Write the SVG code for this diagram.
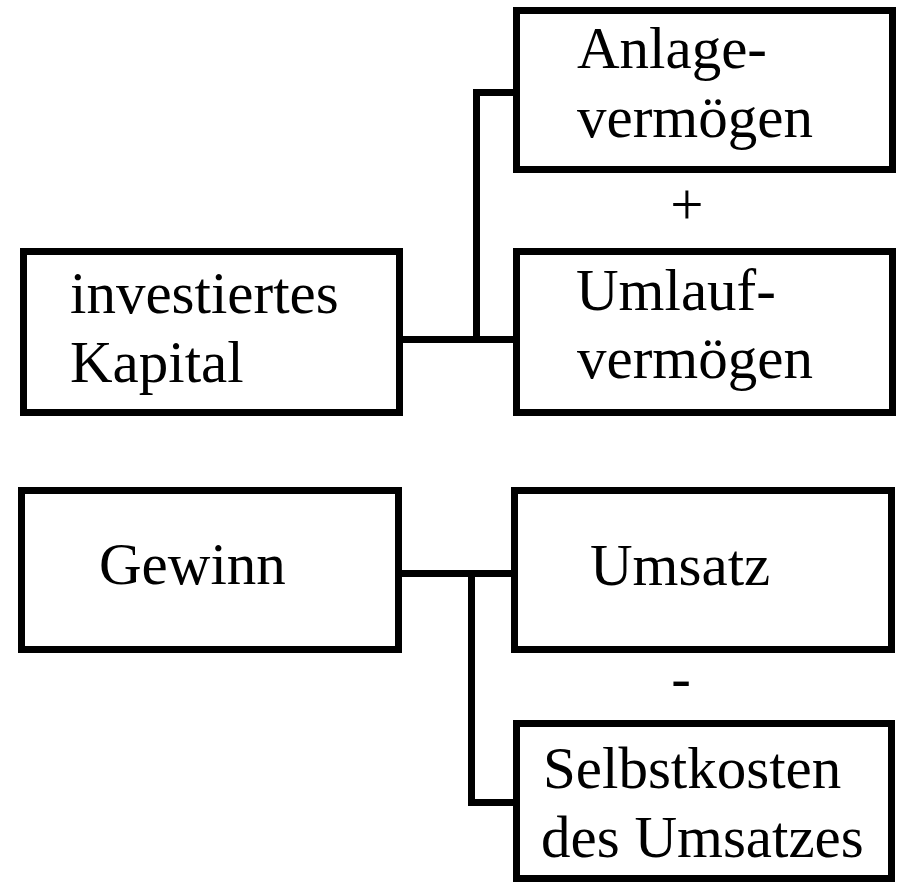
<svg xmlns="http://www.w3.org/2000/svg" width="898" height="882" viewBox="0 0 898 882">
  <style>
    .box { fill: #ffffff; stroke: #000000; stroke-width: 7; }
    .lbl { font-family: "Liberation Serif", "Times New Roman", serif; font-size: 59px; fill: #000000; }
    .op { font-family: "Liberation Serif", "Times New Roman", serif; font-size: 59px; fill: #000000; text-anchor: middle; }
    .wire { fill: none; stroke: #000000; stroke-width: 7; stroke-linecap: square; stroke-linejoin: miter; }
  </style>
  <rect width="898" height="882" fill="#ffffff"/>

  <!-- connectors -->
  <g id="connectors">
    <line class="wire" x1="403" y1="339.5" x2="513" y2="339.5"/>
    <polyline class="wire" points="513,92.5 476.5,92.5 476.5,339.5"/>
    <line class="wire" x1="402" y1="573.5" x2="511" y2="573.5"/>
    <polyline class="wire" points="471.5,573.5 471.5,802.5 513,802.5"/>
  </g>

  <!-- capital side -->
  <g id="investiertes-kapital">
    <rect class="box" x="23.5" y="251.5" width="376" height="161"/>
    <text class="lbl" x="70" y="313">investiertes</text>
    <text class="lbl" x="70" y="382">Kapital</text>
  </g>
  <g id="anlagevermoegen">
    <rect class="box" x="516.5" y="10.5" width="376" height="159"/>
    <text class="lbl" x="577" y="68">Anlage-</text>
    <text class="lbl" x="577" y="137">vermögen</text>
  </g>
  <text class="op" x="687" y="224">+</text>
  <g id="umlaufvermoegen">
    <rect class="box" x="516.5" y="251.5" width="376" height="161"/>
    <text class="lbl" x="576" y="310">Umlauf-</text>
    <text class="lbl" x="577" y="378">vermögen</text>
  </g>

  <!-- profit side -->
  <g id="gewinn">
    <rect class="box" x="21.5" y="490.5" width="377" height="159"/>
    <text class="lbl" x="99" y="584">Gewinn</text>
  </g>
  <g id="umsatz">
    <rect class="box" x="514.5" y="490.5" width="377" height="159"/>
    <text class="lbl" x="590" y="585">Umsatz</text>
  </g>
  <text class="op" x="681" y="698">-</text>
  <g id="selbstkosten">
    <rect class="box" x="516.5" y="723.5" width="375" height="155"/>
    <text class="lbl" x="543" y="788">Selbstkosten</text>
    <text class="lbl" x="541" y="857">des Umsatzes</text>
  </g>
</svg>
